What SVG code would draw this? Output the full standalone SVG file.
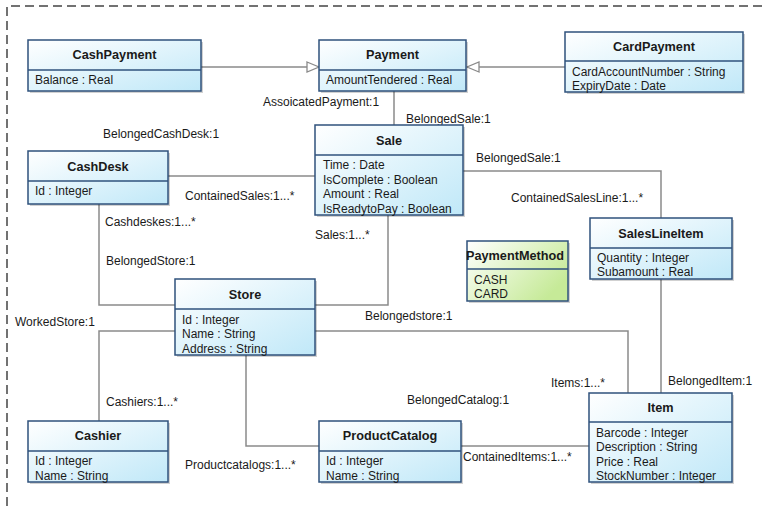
<svg xmlns="http://www.w3.org/2000/svg" width="762" height="506" viewBox="0 0 762 506">
  <defs>
    <linearGradient id="blueFill" x1="0" y1="0" x2="1" y2="1">
      <stop offset="0" stop-color="#ffffff"/>
      <stop offset="1" stop-color="#c0e8f8"/>
    </linearGradient>
    <linearGradient id="greenFill" x1="0" y1="0" x2="1" y2="0.6">
      <stop offset="0" stop-color="#ffffff"/>
      <stop offset="1" stop-color="#c6ea98"/>
    </linearGradient>
    <marker id="genArrow" viewBox="0 0 14 12" refX="13" refY="6" markerWidth="14" markerHeight="12" markerUnits="userSpaceOnUse" orient="auto">
      <path d="M1,1 L13,6 L1,11 Z" fill="#ffffff" stroke="#8a8a8a" stroke-width="1.3"/>
    </marker>
  </defs>
  <style>
    .frame { fill: none; stroke: #444; stroke-width: 1.5; stroke-dasharray: 9 5; }
    .shadow { fill: #000; opacity: 0.18; }
    .box { fill: url(#blueFill); stroke: #2f527c; stroke-width: 1.5; }
    .enum { fill: url(#greenFill); stroke: #2f527c; stroke-width: 1.5; }
    .div { stroke: #2f527c; stroke-width: 1.5; }
    .conn { fill: none; stroke: #8a8a8a; stroke-width: 1.5; }
    text { font-family: "Liberation Sans", Arial, sans-serif; font-size: 12px; fill: #1a1a1a; }
    .title { font-weight: bold; font-size: 12.7px; text-anchor: middle; }
  </style>

  <!-- package frame -->
  <path class="frame" d="M7,506 V6 H762"/>

  <!-- associations and generalizations -->
  <g id="connectors">
    <path class="conn" d="M201,67 H319" marker-end="url(#genArrow)"/>
    <path class="conn" d="M565,67 H467" marker-end="url(#genArrow)"/>
    <path class="conn" d="M394,91 V125"/>
    <path class="conn" d="M168,176 H315"/>
    <path class="conn" d="M99,204 V305 H175"/>
    <path class="conn" d="M388,215 V305 H315"/>
    <path class="conn" d="M463,171 H661 V218"/>
    <path class="conn" d="M661,279 V393"/>
    <path class="conn" d="M315,331 H628 V393"/>
    <path class="conn" d="M175,331 H99 V421"/>
    <path class="conn" d="M246,355 V446 H319"/>
    <path class="conn" d="M461,446 H589"/>
  </g>

  <!-- role labels -->
  <g id="labels">
    <text x="263" y="106">AssoicatedPayment:1</text>
    <text x="406" y="123">BelongedSale:1</text>
    <text x="103" y="138">BelongedCashDesk:1</text>
    <text x="185" y="200">ContainedSales:1...*</text>
    <text x="105" y="226">Cashdeskes:1...*</text>
    <text x="315" y="239">Sales:1...*</text>
    <text x="106" y="265">BelongedStore:1</text>
    <text x="476" y="162">BelongedSale:1</text>
    <text x="511" y="202">ContainedSalesLine:1...*</text>
    <text x="365" y="320">Belongedstore:1</text>
    <text x="15" y="326">WorkedStore:1</text>
    <text x="106" y="406">Cashiers:1...*</text>
    <text x="551" y="387">Items:1...*</text>
    <text x="668" y="385">BelongedItem:1</text>
    <text x="407" y="404">BelongedCatalog:1</text>
    <text x="185" y="469">Productcatalogs:1...*</text>
    <text x="463" y="461">ContainedItems:1...*</text>
  </g>

  <g id="CashPayment">
    <rect class="shadow" x="30" y="42" width="173" height="51"/>
    <rect class="box" x="28" y="40" width="173" height="51"/>
    <line class="div" x1="28" y1="70" x2="201" y2="70"/>
    <text class="title" x="114.5" y="59">CashPayment</text>
    <text x="35" y="84">Balance : Real</text>
  </g>

  <g id="Payment">
    <rect class="shadow" x="321" y="42" width="147" height="51"/>
    <rect class="box" x="319" y="40" width="147" height="51"/>
    <line class="div" x1="319" y1="70" x2="466" y2="70"/>
    <text class="title" x="392.5" y="59">Payment</text>
    <text x="326" y="84">AmountTendered : Real</text>
  </g>

  <g id="CardPayment">
    <rect class="shadow" x="567" y="34" width="178" height="60"/>
    <rect class="box" x="565" y="32" width="178" height="60"/>
    <line class="div" x1="565" y1="61" x2="743" y2="61"/>
    <text class="title" x="654" y="51">CardPayment</text>
    <text x="572" y="75.5">CardAccountNumber : String</text>
    <text x="572" y="90">ExpiryDate : Date</text>
  </g>

  <g id="Sale">
    <rect class="shadow" x="317" y="127" width="148" height="90"/>
    <rect class="box" x="315" y="125" width="148" height="90"/>
    <line class="div" x1="315" y1="155" x2="463" y2="155"/>
    <text class="title" x="389" y="144.5">Sale</text>
    <text x="323" y="169">Time : Date</text>
    <text x="323" y="183.5">IsComplete : Boolean</text>
    <text x="323" y="198">Amount : Real</text>
    <text x="323" y="212.5">IsReadytoPay : Boolean</text>
  </g>

  <g id="CashDesk">
    <rect class="shadow" x="30" y="153" width="140" height="53"/>
    <rect class="box" x="28" y="151" width="140" height="53"/>
    <line class="div" x1="28" y1="181" x2="168" y2="181"/>
    <text class="title" x="98" y="170.5">CashDesk</text>
    <text x="35" y="195">Id : Integer</text>
  </g>

  <g id="PaymentMethod">
    <rect class="shadow" x="469" y="243" width="101" height="60"/>
    <rect class="enum" x="467" y="241" width="101" height="60"/>
    <line class="div" x1="467" y1="269" x2="568" y2="269"/>
    <text class="title" x="515" y="259.5" font-size="12">PaymentMethod</text>
    <text x="474" y="283.5">CASH</text>
    <text x="474" y="297.5">CARD</text>
  </g>

  <g id="SalesLineItem">
    <rect class="shadow" x="592" y="220" width="142" height="61"/>
    <rect class="box" x="590" y="218" width="142" height="61"/>
    <line class="div" x1="590" y1="248" x2="732" y2="248"/>
    <text class="title" x="661" y="237.5">SalesLineItem</text>
    <text x="597" y="261.5">Quantity : Integer</text>
    <text x="597" y="276">Subamount : Real</text>
  </g>

  <g id="Store">
    <rect class="shadow" x="177" y="281" width="140" height="76"/>
    <rect class="box" x="175" y="279" width="140" height="76"/>
    <line class="div" x1="175" y1="309" x2="315" y2="309"/>
    <text class="title" x="245" y="298.5">Store</text>
    <text x="182" y="323.5">Id : Integer</text>
    <text x="182" y="338">Name : String</text>
    <text x="182" y="352.5">Address : String</text>
  </g>

  <g id="Cashier">
    <rect class="shadow" x="30" y="423" width="140" height="61"/>
    <rect class="box" x="28" y="421" width="140" height="61"/>
    <line class="div" x1="28" y1="451" x2="168" y2="451"/>
    <text class="title" x="98" y="440">Cashier</text>
    <text x="35" y="465">Id : Integer</text>
    <text x="35" y="479.5">Name : String</text>
  </g>

  <g id="ProductCatalog">
    <rect class="shadow" x="321" y="423" width="142" height="61"/>
    <rect class="box" x="319" y="421" width="142" height="61"/>
    <line class="div" x1="319" y1="451" x2="461" y2="451"/>
    <text class="title" x="390" y="440">ProductCatalog</text>
    <text x="326" y="465">Id : Integer</text>
    <text x="326" y="479.5">Name : String</text>
  </g>

  <g id="Item">
    <rect class="shadow" x="591" y="395" width="143" height="89"/>
    <rect class="box" x="589" y="393" width="143" height="89"/>
    <line class="div" x1="589" y1="422" x2="732" y2="422"/>
    <text class="title" x="660.5" y="411.5">Item</text>
    <text x="596" y="436.5">Barcode : Integer</text>
    <text x="596" y="451">Description : String</text>
    <text x="596" y="465.5">Price : Real</text>
    <text x="596" y="480">StockNumber : Integer</text>
  </g>
</svg>
